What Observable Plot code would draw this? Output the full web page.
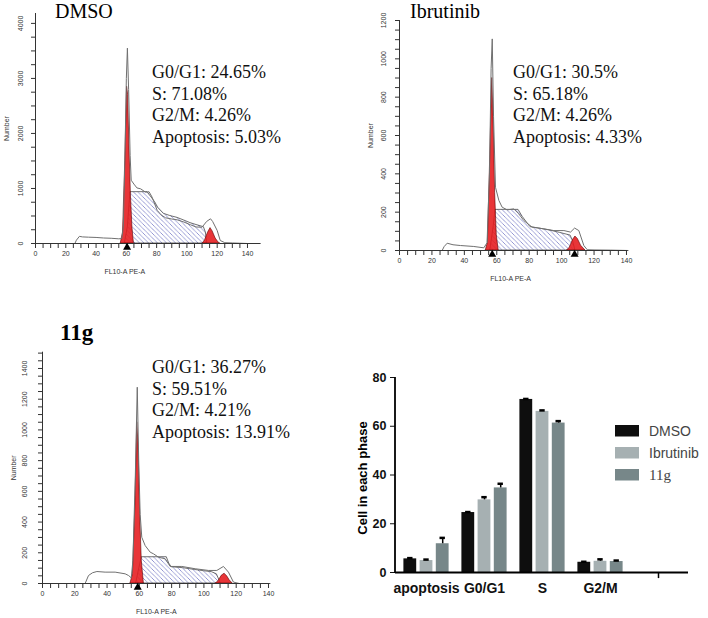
<!DOCTYPE html>
<html><head><meta charset="utf-8">
<script src="https://cdn.jsdelivr.net/npm/d3@7"></script>
<script src="https://cdn.jsdelivr.net/npm/@observablehq/plot@0.6"></script>
<style>
body{margin:0;background:#fff}
#root{position:relative;width:708px;height:618px;overflow:hidden;background:#fff}
#root svg{position:absolute}
</style></head><body><div id="root"></div>
<script>
// ---------- DATA ----------
// Histogram outlines (x = FL10-A PE-A channel, y = cell number)
const dmsoRaw = [[0,0],[26,0],[27,60],[29,130],[31,120],[35,115],[40,110],[45,100],[50,95],[55,85],[57,90],[58,300],[59,1500],[60,3000],[60.7,3550],[61.5,2800],[62.5,1600],[63.2,1150],[65,1080],[67,1010],[69.4,994],[72.6,934],[75,940],[77,843],[80.4,600],[83,520],[85.9,467],[90,445],[93.6,430],[98,390],[102.4,340],[106,300],[110,296],[113,400],[115.6,449],[117,400],[120,236],[122,55],[125,15],[130,10],[135,5],[140,0],[148,0]];
const dmsoG1 = [[56.3,0],[57.8,200],[59.3,1500],[60.5,2850],[61.2,2700],[62,1800],[63,900],[64,300],[65,0]];
const dmsoS = [[59,0],[61,300],[62.7,933],[74,933],[79,751],[81,650],[84.8,539],[89,500],[93.6,467],[98,420],[102.4,370],[107,330],[111.2,297],[112.5,200],[113.5,0]];
const dmsoG2 = [[110.5,0],[112,60],[114,200],[115.6,280],[117,220],[119,90],[121,15],[122,0]];
const dmsoMarks = [60.5];

const ibrRaw = [[0,0],[26.3,0],[27.5,20],[29.4,38],[33,30],[37.6,26],[45.8,21],[52,14],[54,40],[55.5,400],[56.5,950],[57.2,1104],[58,700],[59.2,330],[61.3,261],[63.3,226],[66.4,212],[70.5,217],[73.6,191],[76.7,156],[81.8,122],[85,118],[89,113],[95.2,104],[101.4,104],[105.5,96],[108,117],[110.6,104],[113.7,26],[115.8,4],[120,3],[130,2],[141,0]];
const ibrG1 = [[53.2,0],[54.5,40],[56,500],[57.2,900],[58,700],[59,300],[60,80],[61.2,0]];
const ibrS = [[56,0],[58,120],[59.2,212],[73.4,212],[76,175],[80.8,122],[86,115],[93,104],[99,92],[105.5,78],[107,50],[108.5,0]];
const ibrG2 = [[103.4,0],[105,15],[107,55],[108.5,73],[110,60],[112,25],[114.7,0]];
const ibrMarks = [57.2, 108];

const g11Raw = [[0,0],[26.4,0],[28.5,52],[31,70],[33.7,78],[38.8,74],[45,74],[51.2,63],[53.3,52],[55,37],[56,150],[57.5,700],[58.7,1278],[59.6,800],[60.5,450],[61.5,301],[63.6,247],[66.7,204],[68.8,193],[71.9,171],[76,161],[79.1,111],[86.3,111],[94.6,96],[102.8,85],[108,85],[112.1,111],[115.2,74],[118.3,9],[122,0],[141,0]];
const g11G1 = [[54.5,0],[56,60],[57.5,500],[58.7,1050],[59.5,900],[60.5,450],[61.5,150],[62.8,0]];
const g11S = [[58,0],[60,100],[61.5,171],[77,171],[78.5,130],[80,106],[87,100],[94.6,88],[100,80],[104.9,74],[108,60],[110.5,0]];
const g11G2 = [[107.4,0],[109,15],[111,50],[112.8,64],[114.5,45],[116,20],[117.8,0]];
const g11Marks = [59];

const panelTitles = ["DMSO", "Ibrutinib", "11g"];
const dmsoStats = ["G0/G1: 24.65%", "S: 71.08%", "G2/M: 4.26%", "Apoptosis: 5.03%"];
const ibrStats = ["G0/G1: 30.5%", "S: 65.18%", "G2/M: 4.26%", "Apoptosis: 4.33%"];
const g11Stats = ["G0/G1: 36.27%", "S: 59.51%", "G2/M: 4.21%", "Apoptosis: 13.91%"];
const histXLabel = "FL10-A PE-A";
const histYLabel = "Number";

// Bar chart
const phases = ["apoptosis", "G0/G1", "S", "G2/M"];
const series = ["DMSO", "Ibrutinib", "11g"];
const dmsoVals = [5.6, 24.6, 71.0, 4.2];
const ibrVals = [4.9, 29.8, 66.1, 4.6];
const g11Vals = [11.8, 34.7, 61.3, 4.5];
const dmsoErr = [0.3, 0.2, 0.2, 0.2];
const ibrErr = [0.4, 1.1, 0.4, 0.8];
const g11Err = [2.4, 1.7, 0.8, 0.4];
const barYTicks = [0, 20, 40, 60, 80];
const barYLabel = "Cell in each phase";
const seriesColors = ["#0e0e0e", "#a6b0b2", "#778789"];

// ---------- DRAW ----------
const root = document.getElementById("root");
const xTicks = d3.range(0, 141, 5);
const px = d => d[0], py = d => d[1];

function hist(c) {
  const plot = Plot.plot({
    width: c.width, height: c.height,
    marginTop: c.mt, marginRight: c.mr, marginBottom: c.mb, marginLeft: c.ml,
    style: {fontFamily: "Arial, 'Liberation Sans', sans-serif", fontSize: "7px", color: "#333", background: "white", overflow: "visible"},
    x: {domain: [0, c.xMax], ticks: xTicks, tickSize: 5, tickPadding: 3, tickFormat: d => d % 20 === 0 ? String(d) : "", label: null},
    y: {domain: [0, c.yTop], ticks: d3.range(0, c.yTop + 1, c.yMinor), tickSize: 4, tickFormat: () => "", label: null},
    marks: [
      Plot.areaY(c.s, {x: px, y: py, fill: `url(#${c.hatch})`, stroke: "#333", strokeWidth: 0.7}),
      Plot.areaY(c.g1, {x: px, y: py, fill: "#e5191c", fillOpacity: 0.88, stroke: "#5a0000", strokeWidth: 0.6}),
      Plot.areaY(c.g2, {x: px, y: py, fill: "#e5191c", fillOpacity: 0.88, stroke: "#5a0000", strokeWidth: 0.6}),
      Plot.line(c.raw, {x: px, y: py, stroke: "#707070", strokeWidth: 1}),
      Plot.ruleX([0], {stroke: "#333"}),
      Plot.ruleY([0], {stroke: "#333"}),
      Plot.dot(c.marks, {x: d => d, y: 0, symbol: "triangle", r: 3, fill: "#000", stroke: null, dy: 4}),
      Plot.text(d3.range(0, c.yTop + 1, c.yMajor), {x: 0, y: d => d, text: d => String(d), rotate: -90, dx: c.tickDx, fontSize: 7, fill: "#333"}),
      Plot.text([histYLabel], {x: 0, y: c.yTop / 2, text: d => d, rotate: -90, dx: -29, fontSize: 7, fill: "#333"}),
      Plot.text([histXLabel], {x: c.xLabelAt, y: 0, text: d => d, dy: 28, fontSize: 7, fill: "#333"})
    ]
  });
  const defs = d3.select(plot).insert("defs", ":first-child");
  const pat = defs.append("pattern").attr("id", c.hatch).attr("patternUnits", "userSpaceOnUse")
    .attr("width", 4.5).attr("height", 4.5);
  pat.append("rect").attr("width", 4.5).attr("height", 4.5).attr("fill", "white");
  pat.append("path").attr("d", "M-1,-1L1,1M0,0L4.5,4.5M3.5,3.5L5.5,5.5").attr("stroke", "#8589cc").attr("stroke-width", 0.75);
  plot.style.left = c.left + "px";
  plot.style.top = c.top + "px";
  root.appendChild(plot);
}

hist({raw: dmsoRaw, g1: dmsoG1, s: dmsoS, g2: dmsoG2, marks: dmsoMarks, yTop: 4180, yMajor: 1000, yMinor: 250, xMax: 149, xLabelAt: 59,
  left: 0, top: 0, width: 270, height: 280, mt: 13, mr: 9.4, mb: 37, ml: 35, hatch: "hatch1", tickDx: -14.5});
hist({raw: ibrRaw, g1: ibrG1, s: ibrS, g2: ibrG2, marks: ibrMarks, yTop: 1200, yMajor: 200, yMinor: 50, xMax: 141, xLabelAt: 68.5,
  left: 360, top: 0, width: 280, height: 290, mt: 20, mr: 12.4, mb: 40, ml: 39, hatch: "hatch2", tickDx: -16});
hist({raw: g11Raw, g1: g11G1, s: g11S, g2: g11G2, marks: g11Marks, yTop: 1506, yMajor: 200, yMinor: 50, xMax: 141, xLabelAt: 70.5,
  left: 0, top: 300, width: 300, height: 318, mt: 51.7, mr: 30.4, mb: 35, ml: 42, hatch: "hatch3", tickDx: -17.5});

// Bar chart
const valsBy = [dmsoVals, ibrVals, g11Vals];
const errsBy = [dmsoErr, ibrErr, g11Err];
const rowsBy = series.map((s, i) => phases.map((p, j) => ({phase: p, series: s, value: valsBy[i][j], err: errsBy[i][j]})));
const offsets = [-16.2, 0, 16.2];
const barMarks = [];
rowsBy.forEach((rows, i) => {
  barMarks.push(Plot.barY(rows, {x: "phase", y: "value", fill: seriesColors[i], dx: offsets[i], insetLeft: 22.6, insetRight: 22.6}));
});
rowsBy.forEach((rows, i) => {
  barMarks.push(Plot.ruleX(rows, {x: "phase", y1: "value", y2: d => d.value + d.err, dx: offsets[i], stroke: "#000", strokeWidth: 1.5}));
  barMarks.push(Plot.tickY(rows, {x: "phase", y: d => d.value + d.err, dx: offsets[i], insetLeft: 26.3, insetRight: 26.3, stroke: "#000", strokeWidth: 2.5}));
});
barMarks.push(Plot.ruleY([0], {stroke: "#000", strokeWidth: 1.8}));
barMarks.push(Plot.ruleX([" "], {y1: 0, y2: -2.5, stroke: "#000", strokeWidth: 1.5}));

const bar = Plot.plot({
  width: 348, height: 258, marginTop: 17, marginRight: 20, marginBottom: 46, marginLeft: 35,
  style: {fontFamily: "Arial, 'Liberation Sans', sans-serif", fontSize: "14px", fontWeight: "bold", color: "#111", background: "white", overflow: "visible"},
  x: {domain: [...phases, " "], padding: 0, tickSize: 0, tickPadding: 11, label: null},
  y: {domain: [0, 80], ticks: barYTicks, tickSize: 5, tickPadding: 4, label: null},
  marks: barMarks
});
d3.select(bar).selectAll('g[aria-label="y-axis tick label"] text, g[aria-label="y-axis"] text').attr("font-size", 12.5);
d3.select(bar).selectAll('g[aria-label="y-axis tick label"], g[aria-label="y-axis"]').attr("font-size", 12.5);
{
  const ys = bar.scale("y");
  d3.select(bar).append("line").attr("x1", 35).attr("x2", 35)
    .attr("y1", ys.apply(0) + 0.9).attr("y2", ys.apply(80))
    .attr("stroke", "#000").attr("stroke-width", 1.8);
}
bar.style.left = "360px";
bar.style.top = "360px";
root.appendChild(bar);

// Overlay text
const ov = d3.select(root).append("svg").attr("width", 708).attr("height", 618)
  .style("left", "0px").style("top", "0px").style("pointer-events", "none");
const serif = "'Liberation Serif', 'Times New Roman', serif";
ov.append("text").attr("x", 55).attr("y", 18).attr("font-family", serif).attr("font-size", 20).text(panelTitles[0]);
ov.append("text").attr("x", 410).attr("y", 18).attr("font-family", serif).attr("font-size", 20).text(panelTitles[1]);
ov.append("text").attr("x", 60).attr("y", 340).attr("font-family", serif).attr("font-size", 23).attr("font-weight", "bold").text(panelTitles[2]);
function stats(lines, x, y0) {
  lines.forEach((t, i) => ov.append("text").attr("x", x).attr("y", y0 + i * 21.7)
    .attr("font-family", serif).attr("font-size", 18).attr("fill", "#111").text(t));
}
stats(dmsoStats, 152, 78);
stats(ibrStats, 513, 78);
stats(g11Stats, 152, 373);
ov.append("text").attr("transform", "translate(362,478) rotate(-90)").attr("text-anchor", "middle").attr("dominant-baseline", "central")
  .attr("font-family", "Arial, 'Liberation Sans', sans-serif").attr("font-weight", "bold").attr("font-size", 13).text(barYLabel);
// legend
const legY = [425, 447, 469];
series.forEach((s, i) => {
  ov.append("rect").attr("x", 615).attr("y", legY[i]).attr("width", 24).attr("height", 11.5).attr("fill", seriesColors[i]);
  const t = ov.append("text").attr("x", 649).attr("y", legY[i] + 11).attr("fill", "#444").text(s);
  if (i === 2) t.attr("font-family", serif).attr("font-size", 15);
  else t.attr("font-family", "Arial, 'Liberation Sans', sans-serif").attr("font-size", 14);
});
</script></body></html>
